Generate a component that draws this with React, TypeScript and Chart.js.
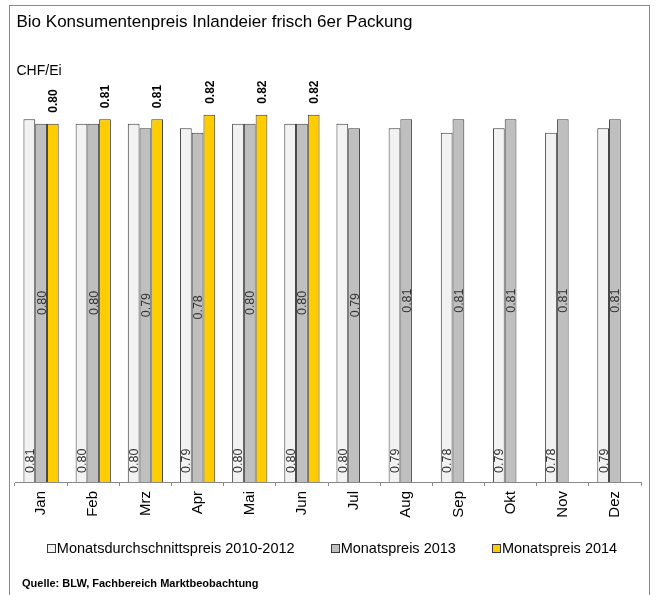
import React, { useEffect, useRef } from "react";
import { Chart, registerables } from "chart.js";

Chart.register(...registerables);

const TITLE = "Bio Konsumentenpreis Inlandeier frisch 6er Packung";
const UNIT = "CHF/Ei";
const SOURCE = "Quelle: BLW, Fachbereich Marktbeobachtung";
const MONTHS = ["Jan", "Feb", "Mrz", "Apr", "Mai", "Jun", "Jul", "Aug", "Sep", "Okt", "Nov", "Dez"];
const AVG_2010_2012 = [0.81, 0.8, 0.8, 0.79, 0.8, 0.8, 0.8, 0.79, 0.78, 0.79, 0.78, 0.79];
const PRICE_2013 = [0.8, 0.8, 0.79, 0.78, 0.8, 0.8, 0.79, 0.81, 0.81, 0.81, 0.81, 0.81];
const PRICE_2014 = [0.8, 0.81, 0.81, 0.82, 0.82, 0.82, null, null, null, null, null, null];
const SERIES_NAMES = ["Monatsdurchschnittspreis 2010-2012", "Monatspreis 2013", "Monatspreis 2014"];
const SERIES_COLORS = ["#F2F2F2", "#BFBFBF", "#FFCC00"];

const FONT = "Arial, 'Liberation Sans', sans-serif";
const EDGE = "#3a3a3a";

const labelPlugin = {
  id: "valueLabels",
  afterDatasetsDraw(chart: any) {
    const ctx = chart.ctx;
    const yBase = chart.scales.y.getPixelForValue(0);
    chart.data.datasets.forEach((ds: any, di: number) => {
      const meta = chart.getDatasetMeta(di);
      meta.data.forEach((bar: any, i: number) => {
        const v = ds.data[i];
        if (v == null) return;
        const text = Number(v).toFixed(2);
        ctx.save();
        ctx.textBaseline = "middle";
        if (di === 0) {
          ctx.translate(bar.x, yBase - 9);
          ctx.rotate(-Math.PI / 2);
          ctx.textAlign = "left";
          ctx.font = `12.5px ${FONT}`;
          ctx.fillStyle = "#333";
        } else if (di === 1) {
          ctx.translate(bar.x, (bar.y + yBase) / 2);
          ctx.rotate(-Math.PI / 2);
          ctx.textAlign = "center";
          ctx.font = `12.5px ${FONT}`;
          ctx.fillStyle = "#333";
        } else {
          ctx.translate(bar.x, bar.y - 11);
          ctx.rotate(-Math.PI / 2);
          ctx.textAlign = "left";
          ctx.font = `bold 12px ${FONT}`;
          ctx.fillStyle = "#000";
        }
        ctx.fillText(text, 0, 1);
        ctx.restore();
      });
    });
  },
};

const framePlugin = {
  id: "frame",
  afterDraw(chart: any) {
    const ctx = chart.ctx;
    ctx.save();
    // outer border
    ctx.strokeStyle = "#8a8a8a";
    ctx.lineWidth = 1;
    ctx.strokeRect(9.5, 5.5, 640, 700);
    // title
    ctx.fillStyle = "#000";
    ctx.textAlign = "left";
    ctx.textBaseline = "alphabetic";
    ctx.font = `17px ${FONT}`;
    ctx.fillText(TITLE, 16.5, 27);
    ctx.font = `14px ${FONT}`;
    ctx.fillText(UNIT, 16.5, 75);
    // source
    ctx.font = `bold 11px ${FONT}`;
    ctx.fillText(SOURCE, 22, 587);
    // legend
    ctx.font = `14.5px ${FONT}`;
    const widths = SERIES_NAMES.map((n) => ctx.measureText(n).width);
    const boxToText = 10;
    const gap = 36;
    const total = widths.reduce((a, w) => a + boxToText + w, 0) + gap * (widths.length - 1);
    let x = 332 - total / 2;
    SERIES_NAMES.forEach((name, i) => {
      ctx.fillStyle = SERIES_COLORS[i];
      ctx.fillRect(Math.round(x) + 0.5, 544.5, 8, 8);
      ctx.strokeStyle = EDGE;
      ctx.strokeRect(Math.round(x) + 0.5, 544.5, 8, 8);
      ctx.fillStyle = "#000";
      ctx.fillText(name, x + boxToText, 553);
      x += boxToText + widths[i] + gap;
    });
    ctx.restore();
  },
};

export default function App() {
  const ref = useRef<HTMLCanvasElement | null>(null);
  useEffect(() => {
    if (!ref.current) return;
    const chart = new Chart(ref.current, {
      type: "bar",
      data: {
        labels: MONTHS,
        datasets: [
          { label: SERIES_NAMES[0], data: AVG_2010_2012, backgroundColor: SERIES_COLORS[0] },
          { label: SERIES_NAMES[1], data: PRICE_2013, backgroundColor: SERIES_COLORS[1] },
          { label: SERIES_NAMES[2], data: PRICE_2014 as any, backgroundColor: SERIES_COLORS[2] },
        ].map((d) => ({
          ...d,
          borderColor: EDGE,
          borderWidth: 1,
          barPercentage: 1,
          categoryPercentage: 0.676,
        })),
      },
      options: {
        animation: false,
        responsive: false,
        maintainAspectRatio: false,
        devicePixelRatio: 1,
        layout: { padding: { left: 15, right: 15, top: 79, bottom: 0 } },
        plugins: {
          legend: { display: false },
          title: { display: false },
          tooltip: { enabled: false },
        },
        scales: {
          x: {
            afterFit: (axis: any) => {
              axis.height = 113;
            },
            border: { display: true, color: "#888", width: 1 },
            grid: {
              offset: true,
              drawOnChartArea: false,
              drawTicks: true,
              tickLength: 4,
              color: "#888",
            },
            ticks: {
              autoSkip: false,
              minRotation: 90,
              maxRotation: 90,
              padding: 5,
              color: "#000",
              font: { family: FONT, size: 15 },
            },
          },
          y: {
            display: false,
            min: 0,
            max: 0.9,
          },
        },
      },
      plugins: [labelPlugin, framePlugin],
    });
    return () => chart.destroy();
  }, []);
  return (
    <div style={{ position: "fixed", left: 0, top: 0, width: 656, height: 595, background: "#fff" }}>
      <canvas ref={ref} width={656} height={595} style={{ display: "block", width: 656, height: 595 }} />
    </div>
  );
}
